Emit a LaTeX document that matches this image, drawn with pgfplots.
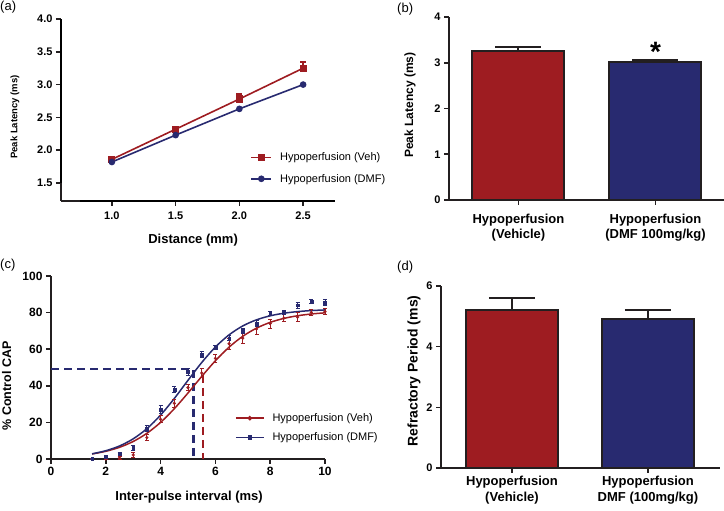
\documentclass[border=0pt]{standalone}
\usepackage{pgfplots}
\pgfplotsset{compat=1.18}
\usepackage{fontspec}
\setmainfont{Liberation Sans}

\definecolor{vehred}{RGB}{158,28,33}
\definecolor{dmfblue}{RGB}{40,42,112}
\definecolor{axisdark}{RGB}{35,31,32}

\pgfplotsset{
  prism/.style={
    scale only axis, anchor=south west,
    axis x line=bottom, axis y line=left,
    axis line style={-, line width=1.6pt, draw=axisdark},
    tick align=outside, major tick length=5pt,
    tick style={line width=1.6pt, draw=axisdark},
    /pgf/number format/assume math mode=true,
    tick label style={font=\bfseries\fontsize{11}{13}\selectfont},
    label style={font=\bfseries\fontsize{13}{15}\selectfont},
    clip=false,
  },
  barplot/.style={bar shift=0pt, bar width=92pt, draw=axisdark, line width=2pt,
    error bars/.cd, y dir=plus, y explicit,
    error bar style={line width=2pt, draw=axisdark},
    error mark options={rotate=90, mark size=23pt, line width=2pt, draw=axisdark}},
}

\begin{document}
\begin{tikzpicture}
\path[use as bounding box] (0pt,0pt) rectangle (724pt,511pt);

% (a) latency vs distance (axes drawn detached, Prism style)
\begin{axis}[prism,
  at={(61pt,310pt)}, width=274pt, height=182pt,
  xmin=0.601, xmax=2.75, ymin=1.2256, ymax=4,
  xtick={1,1.5,2,2.5}, ytick={1.5,2,2.5,3,3.5,4},
  xticklabel={\pgfmathprintnumber[fixed,fixed zerofill,precision=1]{\tick}},
  yticklabel={\pgfmathprintnumber[fixed,fixed zerofill,precision=1]{\tick}},
  xticklabel style={yshift=-2pt},
  xlabel={Distance (mm)}, ylabel={Peak Latency (ms)},
  xlabel style={at={(axis description cs:0.482,-0.214)}, anchor=center},
  ylabel style={at={(axis description cs:-0.168,0.4615)}, anchor=center, font=\bfseries\fontsize{9.5}{11}\selectfont},
  legend style={at={(axis description cs:0.68,0.181)}, anchor=west, draw=none, fill=none,
    font=\fontsize{11}{13}\selectfont, row sep=8pt,
    /tikz/every odd column/.append style={column sep=6pt}},
  legend cell align=left,
  legend image code/.code={\draw[mark repeat=2, mark phase=2, #1] plot coordinates {(0pt,0pt) (10pt,0pt) (20pt,0pt)};},
]
% detached axis lines, drawn as plain paths through the axis
\addplot[axisdark, line width=1.6pt, mark=none, forget plot] coordinates {(0.601,1.5) (0.601,4)};
\addplot[axisdark, line width=1.6pt, mark=none, forget plot] coordinates {(0.75,1.2256) (2.75,1.2256)};
\addplot[vehred, line width=1.6pt, mark=square*, mark size=2.8pt,
  error bars/.cd, y dir=plus, y explicit, error bar style={line width=1.6pt},
  error mark options={rotate=90, mark size=3pt, line width=1.6pt}]
  coordinates {(1,1.86) +- (0,0.02) (1.5,2.32) +- (0,0.04) (2,2.78) +- (0,0.08) (2.5,3.25) +- (0,0.09)};
\addlegendentry{Hypoperfusion (Veh)}
\addplot[dmfblue, line width=1.6pt, mark=*, mark size=2.5pt]
  coordinates {(1,1.82) (1.5,2.23) (2,2.63) (2.5,3.00)};
\addlegendentry{Hypoperfusion (DMF)}
\end{axis}
\draw[black, line width=1.6pt] (61pt,328pt) -- (61pt,492pt);
\draw[black, line width=1.6pt] (80pt,310pt) -- (335pt,310pt);

% (b) peak latency bars
\begin{axis}[prism, ybar,
  at={(449pt,311pt)}, width=275pt, height=183pt,
  xmin=-0.507, xmax=1.5, ymin=0, ymax=4,
  xtick={0,1}, ytick={0,1,2,3,4},
  xticklabels={{Hypoperfusion\\(Vehicle)},{Hypoperfusion\\(DMF 100mg/kg)}},
  xticklabel style={align=center, font=\bfseries\fontsize{13}{15}\selectfont, yshift=-6pt},
  ylabel={Peak Latency (ms)},
  ylabel style={at={(axis description cs:-0.142,0.519)}, anchor=center, font=\bfseries\fontsize{12}{14}\selectfont},
]
\addplot[fill=vehred, barplot] coordinates {(0,3.25) +- (0,0.10)};
\addplot[fill=dmfblue, barplot] coordinates {(1,3.02) +- (0,0.04)};
\node[anchor=north, inner sep=0pt, font=\bfseries\fontsize{28}{28}\selectfont] at (axis cs:1,3.45) {*};
\end{axis}

% (c) recovery curves
\begin{axis}[prism,
  at={(51pt,52pt)}, width=274pt, height=183pt,
  xmin=0, xmax=10, ymin=0, ymax=100,
  xtick={0,2,...,10}, ytick={0,20,...,100},
  tick label style={font=\bfseries\fontsize{12}{14}\selectfont},
  xlabel={Inter-pulse interval (ms)}, ylabel={\% Control CAP},
  xlabel style={at={(axis description cs:0.504,-0.208)}, anchor=center},
  ylabel style={at={(axis description cs:-0.162,0.399)}, anchor=center, font=\bfseries\fontsize{12.5}{14}\selectfont},
  legend style={at={(axis description cs:0.66,0.17)}, anchor=west, draw=none, fill=none,
    font=\fontsize{11}{13}\selectfont, row sep=6pt,
    /tikz/every odd column/.append style={column sep=6pt}},
  legend cell align=left,
  legend image code/.code={\draw[mark repeat=2, mark phase=2, #1] plot coordinates {(0pt,0pt) (14pt,0pt) (28pt,0pt)};},
]
\addplot[dmfblue, line width=2.2pt, dash pattern=on 8pt off 5pt, forget plot]
  coordinates {(0,49) (5.2,49) (5.2,0)};
\addplot[vehred, line width=2.2pt, dash pattern=on 8pt off 5pt, forget plot]
  coordinates {(5.55,46) (5.55,0)};
% fitted curves
\addplot[vehred, line width=1.5pt, smooth, forget plot] coordinates {
  (1.5,2.74) (2,4.20) (2.5,6.39) (3,9.57) (3.5,14.04) (4,20.0) (4.5,27.48) (5,36.08)
  (5.5,45.1) (6,53.69) (6.5,61.13) (7,67.06) (7.5,71.50) (8,74.66) (8.5,76.83)
  (9,78.28) (9.5,79.24) (10,79.87)};
\addplot[dmfblue, line width=1.5pt, smooth, forget plot] coordinates {
  (1.5,2.83) (2,4.51) (2.5,7.12) (3,11.02) (3.5,16.58) (4,24.0) (4.5,33.06) (5,43.0)
  (5.5,52.7) (6,61.18) (6.5,67.86) (7,72.72) (7.5,76.05) (8,78.25) (8.5,79.66)
  (9,80.55) (9.5,81.11) (10,81.45)};
% data points
\addplot[vehred, only marks, mark=*, mark size=1.4pt, forget plot,
  error bars/.cd, y dir=both, y explicit, error bar style={line width=1pt},
  error mark options={rotate=90, mark size=2pt, line width=1pt}] coordinates {
  (1.5,0) +- (0,0.5) (2,0) +- (0,0.5) (2.5,0.5) +- (0,1) (3,2.2) +- (0,1.2)
  (3.5,11.7) +- (0,1.8) (4,21.7) +- (0,2) (4.5,30.4) +- (0,2) (5,39) +- (0,1.5)
  (5.5,47) +- (0,2.5) (6,55) +- (0,2) (6.5,63) +- (0,3) (7,66) +- (0,3)
  (7.5,71) +- (0,3) (8,74) +- (0,2.5) (8.5,77) +- (0,2) (9,77.5) +- (0,2.5)
  (9.5,80) +- (0,1.5) (10,80.5) +- (0,1.5)};
\addplot[dmfblue, only marks, mark=square*, mark size=1.4pt, forget plot,
  error bars/.cd, y dir=both, y explicit, error bar style={line width=1pt},
  error mark options={rotate=90, mark size=2pt, line width=1pt}] coordinates {
  (1.5,0) +- (0,0.5) (2,1.3) +- (0,0.8) (2.5,2.7) +- (0,1) (3,6) +- (0,1.5)
  (3.5,16.6) +- (0,1.5) (4,27) +- (0,2) (4.5,38) +- (0,1.5) (5,47.5) +- (0,2)
  (5.5,57) +- (0,1.5) (6,61) +- (0,1) (6.5,66) +- (0,1.5) (7,70) +- (0,1.5)
  (7.5,74) +- (0,1.5) (8,79.5) +- (0,1) (8.5,80) +- (0,1) (9,84) +- (0,1.5)
  (9.5,86) +- (0,1) (10,85.5) +- (0,1.5)};
\addlegendimage{vehred, line width=1.5pt, mark=*, mark size=1.5pt}
\addlegendentry{Hypoperfusion (Veh)}
\addlegendimage{dmfblue, line width=1.5pt, mark=square*, mark size=1.5pt}
\addlegendentry{Hypoperfusion (DMF)}
\end{axis}

% (d) refractory period bars
\begin{axis}[prism, ybar,
  at={(441pt,43pt)}, width=279pt, height=182pt,
  xmin=-0.522, xmax=1.53, ymin=0, ymax=6,
  xtick={0,1}, ytick={0,2,4,6},
  xticklabels={{Hypoperfusion\\(Vehicle)},{Hypoperfusion\\DMF (100mg/kg)}},
  xticklabel style={align=center, font=\bfseries\fontsize{13}{16}\selectfont},
  ylabel={Refractory Period (ms)},
  ylabel style={at={(axis description cs:-0.097,0.533)}, anchor=center, font=\bfseries\fontsize{14}{16}\selectfont},
]
\addplot[fill=vehred, barplot] coordinates {(0,5.2) +- (0,0.42)};
\addplot[fill=dmfblue, barplot] coordinates {(1,4.9) +- (0,0.3)};
\end{axis}

% panel letters
\node[anchor=west, inner sep=0pt, font=\fontsize{13}{15}\selectfont] at (0pt,504pt) {(a)};
\node[anchor=west, inner sep=0pt, font=\fontsize{13}{15}\selectfont] at (397pt,502pt) {(b)};
\node[anchor=west, inner sep=0pt, font=\fontsize{13}{15}\selectfont] at (0pt,246pt) {(c)};
\node[anchor=west, inner sep=0pt, font=\fontsize{13}{15}\selectfont] at (397pt,244pt) {(d)};
\end{tikzpicture}
\end{document}
